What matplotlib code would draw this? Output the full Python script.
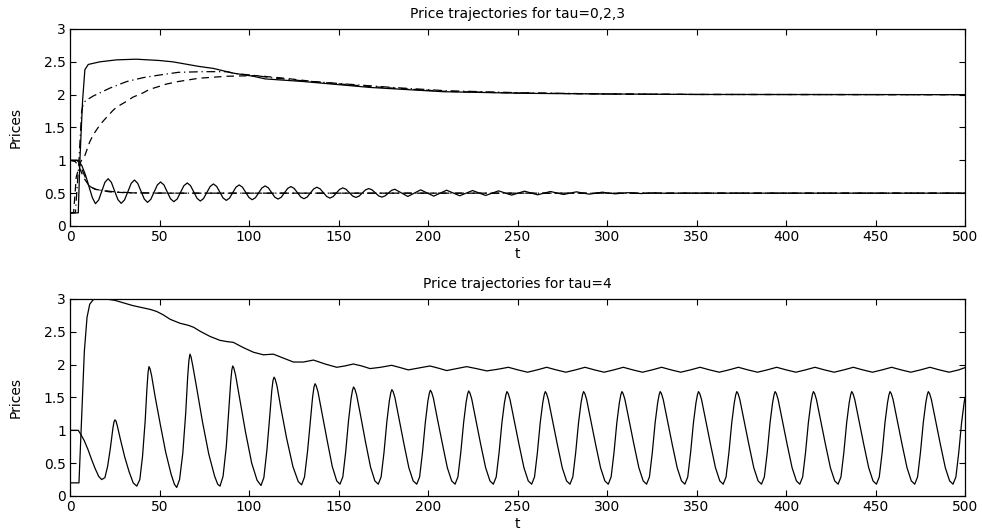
import matplotlib
matplotlib.use("Agg")
import matplotlib.pyplot as plt

plt.rcParams['font.family'] = ['DejaVu Sans']
plt.rcParams['font.size'] = 10

# ---- top panel: tau = 0, 2, 3 ----
# solid: tau=3 (oscillating), dash-dot: tau=2, dashed: tau=0
top_solid_hi_t = [0, 4.6, 5.6, 7.0, 8.3, 10.2, 16.7, 26, 37, 50, 57.4, 72, 80, 90.7, 102.4,
                  109, 130.3, 167.6, 208.5, 255, 301.7, 350, 500]
top_solid_hi_y = [0.2, 0.2, 1.05, 1.9, 2.38, 2.46, 2.50, 2.53, 2.54, 2.52, 2.50, 2.43, 2.40, 2.33, 2.28,
                  2.24, 2.20, 2.11, 2.045, 2.02, 2.01, 2.003, 2.0]

top_dashdot_hi_t = [0, 3, 5, 6.5, 7.5, 10, 13, 22.3, 31.7, 41, 50.3, 60.5, 74.5, 87.5, 93, 104,
                    111.7, 130.3, 160, 180, 210, 250, 300, 350, 500]
top_dashdot_hi_y = [0.2, 0.2, 1.0, 1.75, 1.88, 1.93, 1.98, 2.10, 2.20, 2.26, 2.30, 2.34, 2.35, 2.35, 2.32, 2.29,
                    2.26, 2.21, 2.15, 2.11, 2.06, 2.03, 2.01, 2.003, 2.0]

top_dashed_hi_t = [0, 2, 3.5, 6, 8.4, 11, 13, 16.7, 18.6, 24, 26, 31.7, 35, 41, 44.4, 50.3, 53.7,
                   60.5, 72, 87.5, 104, 120, 136, 160, 180, 210, 250, 300, 350, 500]
top_dashed_hi_y = [0.2, 0.2, 0.75, 0.98, 1.08, 1.28, 1.39, 1.54, 1.60, 1.76, 1.81, 1.90, 1.96, 2.03, 2.08, 2.13, 2.16,
                   2.20, 2.25, 2.28, 2.29, 2.25, 2.20, 2.14, 2.10, 2.05, 2.025, 2.01, 2.003, 2.0]

top_dashdot_lo_t = [0, 4, 6, 8.4, 11.2, 15, 18.6, 25, 35, 60, 500]
top_dashdot_lo_y = [1.0, 1.0, 0.9, 0.75, 0.60, 0.55, 0.54, 0.52, 0.505, 0.5, 0.5]

top_dashed_lo_t = [0, 3, 5, 8, 11, 14, 22, 32, 50, 500]
top_dashed_lo_y = [1.0, 0.98, 0.9, 0.72, 0.60, 0.56, 0.52, 0.505, 0.5, 0.5]

top_solid_lo_t = [0, 4.6, 6.6, 8.6, 10.6, 12.5, 14.2,
                  16.0, 17.75, 19.5, 21.3, 23.1, 24.95, 26.8, 28.6,
                  30.45, 32.3, 34.15, 36.0, 37.8, 39.65, 41.5, 43.3,
                  45.1, 46.95, 48.8, 50.6, 52.45, 54.3, 56.15, 58.0,
                  59.9, 61.75, 63.6, 65.5, 67.3, 69.15, 71.0, 72.8,
                  74.6, 76.45, 78.3, 80.1, 81.9, 83.7, 85.5, 87.3,
                  89.1, 90.9, 92.7, 94.5, 96.3, 98.15, 100.0, 101.8,
                  103.6, 105.4, 107.2, 109.0, 110.8, 112.6, 114.4, 116.2,
                  118.0, 119.8, 121.6, 123.4, 125.2, 127.05, 128.9, 130.7,
                  132.5, 134.3, 136.1, 137.9, 139.7, 141.55, 143.4, 145.2,
                  147.0, 148.8, 150.6, 152.4, 154.2, 156.05, 157.9, 159.7,
                  161.5, 163.3, 165.1, 166.9, 168.7, 170.55, 172.4, 174.2,
                  176.0, 177.8, 179.6, 181.4, 185.05, 188.7, 192.3, 195.9,
                  199.55, 203.2, 206.8, 210.4, 214.05, 217.7, 221.3, 224.9,
                  228.55, 232.2, 235.8, 239.4, 243.05, 246.7, 250.3, 253.9,
                  257.55, 261.2, 264.8, 268.4, 272.05, 275.7, 279.3, 282.9,
                  286.55, 290.2, 293.8, 297.4, 301.05, 304.7, 308.3, 311.9,
                  315.5, 319.1, 322.7, 326.4, 330.0, 333.6, 340, 500]
top_solid_lo_y = [1.0, 1.0, 0.92, 0.78, 0.60, 0.43, 0.34,
                  0.395, 0.53, 0.665, 0.72, 0.665, 0.53, 0.40, 0.345,
                  0.397, 0.52, 0.648, 0.70, 0.65, 0.53, 0.41, 0.36,
                  0.405, 0.515, 0.625, 0.67, 0.626, 0.52, 0.414, 0.37,
                  0.412, 0.513, 0.613, 0.655, 0.615, 0.518, 0.42, 0.38,
                  0.418, 0.51, 0.602, 0.64, 0.603, 0.515, 0.427, 0.39,
                  0.424, 0.508, 0.591, 0.625, 0.592, 0.512, 0.433, 0.40,
                  0.431, 0.505, 0.579, 0.61, 0.581, 0.51, 0.439, 0.41,
                  0.438, 0.505, 0.572, 0.60, 0.573, 0.508, 0.442, 0.415,
                  0.441, 0.503, 0.564, 0.59, 0.566, 0.508, 0.449, 0.425,
                  0.448, 0.503, 0.557, 0.58, 0.559, 0.508, 0.456, 0.435,
                  0.455, 0.503, 0.55, 0.57, 0.551, 0.505, 0.459, 0.44,
                  0.458, 0.50, 0.542, 0.56, 0.505, 0.45, 0.50, 0.55,
                  0.503, 0.455, 0.50, 0.545, 0.503, 0.46, 0.50, 0.54,
                  0.503, 0.465, 0.50, 0.535, 0.502, 0.47, 0.50, 0.53,
                  0.502, 0.475, 0.50, 0.525, 0.502, 0.48, 0.50, 0.52,
                  0.501, 0.485, 0.50, 0.515, 0.50, 0.49, 0.50, 0.507,
                  0.50, 0.494, 0.50, 0.504, 0.50, 0.497, 0.5, 0.5]

# ---- bottom panel: tau = 4 ----
bot_hi_t = [0, 5.0, 6.5, 8, 9.5, 11, 13, 15, 20, 25, 30, 35, 40, 45, 48.4, 52, 56, 61.5, 66, 69,
            72.6, 78.2, 83.8, 88, 91.2, 96.8, 102.4, 108, 113.6, 119.2, 124.8, 130.4, 136, 142.5,
            149, 153.5, 158.3, 163, 167.6, 173.5, 179.7, 184.5, 189, 195, 201.1, 206, 210.4, 216,
            221.6, 227, 232.8, 239,
            244.9, 250.25, 255.6, 260.95, 266.3, 271.65, 277.0, 282.35, 287.7, 293.05, 298.4, 303.75,
            309.1, 314.45, 319.8, 325.15, 330.5, 335.85, 341.2, 346.55, 352.0, 357.35, 362.7, 368.05,
            373.4, 378.75, 384.1, 389.45, 394.8, 400.15, 405.5, 410.85, 416.2, 421.55, 426.9, 432.25,
            437.6, 442.95, 448.3, 453.65, 459.0, 464.35, 469.7, 475.05, 480.4, 485.75, 491.1, 496.45,
            500]
bot_hi_y = [0.2, 0.2, 1.2, 2.2, 2.72, 2.92, 2.99, 3.0, 3.0, 2.98, 2.94, 2.90, 2.87, 2.84, 2.81, 2.76, 2.69, 2.63, 2.60, 2.57,
            2.51, 2.43, 2.37, 2.35, 2.34, 2.26, 2.19, 2.15, 2.16, 2.10, 2.04, 2.04, 2.07, 2.01,
            1.96, 1.98, 2.01, 1.98, 1.94, 1.96, 1.99, 1.955, 1.92, 1.95, 1.98, 1.945, 1.91, 1.94,
            1.97, 1.94, 1.905, 1.93,
            1.96, 1.92, 1.885, 1.92, 1.96, 1.92, 1.885, 1.92, 1.96, 1.92, 1.885, 1.92,
            1.96, 1.92, 1.885, 1.92, 1.96, 1.92, 1.885, 1.92, 1.96, 1.92, 1.885, 1.92,
            1.96, 1.92, 1.885, 1.92, 1.96, 1.92, 1.885, 1.92, 1.96, 1.92, 1.885, 1.92,
            1.96, 1.92, 1.885, 1.92, 1.96, 1.92, 1.885, 1.92, 1.96, 1.92, 1.885, 1.92,
            1.955]

bot_lo_t = [0, 4.6, 6, 8, 10, 12, 14, 16, 17.7, 19.5, 21, 22.5,
            24.0, 24.6, 25.1, 25.7, 26.5, 28, 30.5, 33, 35.3, 37.3,
            39, 40.5, 42, 43.0, 43.6, 44.1, 44.7, 45.6, 47.5, 50.5, 53.5, 56.5, 58.3, 59.6,
            61.2, 63, 64.6, 65.7, 66.4, 67, 67.6, 68.6, 70.8, 74, 77.5, 80.8, 82.5, 83.8,
            85.5, 87.3, 88.8, 89.8, 90.4, 90.9, 91.5, 92.5, 94.8, 98, 101.5, 104.5, 106.7,
            108.3, 110, 111.6, 112.7, 113.4, 114, 114.6, 115.6, 117.8, 121, 124.5, 127.5, 129.4,
            131, 132.7, 134.3, 135.5, 136.3, 136.9, 137.5, 138.5, 140.7, 143.7, 146.5, 149,
            150.8, 152.4, 154.0, 155.6, 157.0, 157.8, 158.4, 159.1, 160.1, 162.3, 165.1, 167.9, 170.3,
            172.2, 173.8, 175.4, 177.0, 178.4, 179.2, 179.8, 180.5, 181.5, 183.7, 186.5, 189.3, 191.7,
            193.7, 195.3, 196.9, 198.5, 199.9, 200.7, 201.3, 202.0, 203.0, 205.2, 208.0, 210.8, 213.2,
            215.1, 216.7, 218.3, 219.9, 221.3, 222.1, 222.7, 223.4, 224.4, 226.6, 229.4, 232.2, 234.6,
            236.5, 238.1, 239.7, 241.3, 242.7, 243.5, 244.1, 244.8, 245.8, 248.0, 250.8, 253.6, 256.0,
            257.9, 259.5, 261.1, 262.7, 264.1, 264.9, 265.5, 266.2, 267.2, 269.4, 272.2, 275.0, 277.4,
            279.3, 280.9, 282.5, 284.1, 285.5, 286.3, 286.9, 287.6, 288.6, 290.8, 293.6, 296.4, 298.8,
            300.7, 302.3, 303.9, 305.5, 306.9, 307.7, 308.3, 309.0, 310.0, 312.2, 315.0, 317.8, 320.2,
            322.1, 323.7, 325.3, 326.9, 328.3, 329.1, 329.7, 330.4, 331.4, 333.6, 336.4, 339.2, 341.6,
            343.5, 345.1, 346.7, 348.3, 349.7, 350.5, 351.1, 351.8, 352.8, 355.0, 357.8, 360.6, 363.0,
            364.9, 366.5, 368.1, 369.7, 371.1, 371.9, 372.5, 373.2, 374.2, 376.4, 379.2, 382.0, 384.4,
            386.3, 387.9, 389.5, 391.1, 392.5, 393.3, 393.9, 394.6, 395.6, 397.8, 400.6, 403.4, 405.8,
            407.7, 409.3, 410.9, 412.5, 413.9, 414.7, 415.3, 416.0, 417.0, 419.2, 422.0, 424.8, 427.2,
            429.1, 430.7, 432.3, 433.9, 435.3, 436.1, 436.7, 437.4, 438.4, 440.6, 443.4, 446.2, 448.6,
            450.5, 452.1, 453.7, 455.3, 456.7, 457.5, 458.1, 458.8, 459.8, 462.0, 464.8, 467.6, 470.0,
            471.9, 473.5, 475.1, 476.7, 478.1, 478.9, 479.5, 480.2, 481.2, 483.4, 486.2, 489.0, 491.4,
            493.3, 494.9, 496.5, 498.1, 499.5, 500]
bot_lo_y = [1.0, 1.0, 0.94, 0.84, 0.71, 0.56, 0.42, 0.30, 0.25, 0.28, 0.45, 0.72,
            1.04, 1.13, 1.16, 1.14, 1.06, 0.88, 0.60, 0.37, 0.20, 0.15,
            0.25, 0.60, 1.15, 1.65, 1.88, 1.97, 1.94, 1.83, 1.52, 1.08, 0.66, 0.33, 0.18, 0.13,
            0.25, 0.65, 1.25, 1.80, 2.06, 2.16, 2.12, 1.98, 1.64, 1.13, 0.64, 0.30, 0.18, 0.15,
            0.30, 0.75, 1.35, 1.75, 1.92, 1.98, 1.95, 1.84, 1.48, 0.98, 0.50, 0.24, 0.16,
            0.28, 0.70, 1.22, 1.60, 1.76, 1.81, 1.78, 1.68, 1.34, 0.88, 0.45, 0.22, 0.17,
            0.29, 0.68, 1.15, 1.50, 1.66, 1.71, 1.68, 1.59, 1.27, 0.84, 0.45, 0.23,
            0.18, 0.29, 0.67, 1.15, 1.48, 1.61, 1.66, 1.63, 1.54, 1.23, 0.82, 0.44, 0.23,
            0.18, 0.29, 0.66, 1.13, 1.45, 1.57, 1.62, 1.59, 1.50, 1.19, 0.80, 0.43, 0.23,
            0.18, 0.29, 0.66, 1.12, 1.44, 1.56, 1.61, 1.58, 1.49, 1.18, 0.80, 0.43, 0.23,
            0.18, 0.29, 0.66, 1.12, 1.43, 1.55, 1.60, 1.57, 1.48, 1.18, 0.79, 0.43, 0.23,
            0.18, 0.29, 0.66, 1.12, 1.42, 1.54, 1.59, 1.56, 1.47, 1.17, 0.79, 0.43, 0.23,
            0.18, 0.29, 0.66, 1.12, 1.42, 1.54, 1.59, 1.56, 1.47, 1.17, 0.79, 0.43, 0.23,
            0.18, 0.29, 0.66, 1.12, 1.42, 1.54, 1.59, 1.56, 1.47, 1.17, 0.79, 0.43, 0.23,
            0.18, 0.29, 0.66, 1.12, 1.42, 1.54, 1.59, 1.56, 1.47, 1.17, 0.79, 0.43, 0.23,
            0.18, 0.29, 0.66, 1.12, 1.42, 1.54, 1.59, 1.56, 1.47, 1.17, 0.79, 0.43, 0.23,
            0.18, 0.29, 0.66, 1.12, 1.42, 1.54, 1.59, 1.56, 1.47, 1.17, 0.79, 0.43, 0.23,
            0.18, 0.29, 0.66, 1.12, 1.42, 1.54, 1.59, 1.56, 1.47, 1.17, 0.79, 0.43, 0.23,
            0.18, 0.29, 0.66, 1.12, 1.42, 1.54, 1.59, 1.56, 1.47, 1.17, 0.79, 0.43, 0.23,
            0.18, 0.29, 0.66, 1.12, 1.42, 1.54, 1.59, 1.56, 1.47, 1.17, 0.79, 0.43, 0.23,
            0.18, 0.29, 0.66, 1.12, 1.42, 1.54, 1.59, 1.56, 1.47, 1.17, 0.79, 0.43, 0.23,
            0.18, 0.29, 0.66, 1.12, 1.42, 1.54, 1.59, 1.56, 1.47, 1.17, 0.79, 0.43, 0.23,
            0.18, 0.29, 0.66, 1.12, 1.42, 1.54, 1.59, 1.56, 1.47, 1.17, 0.79, 0.43, 0.23,
            0.18, 0.29, 0.66, 1.12, 1.42, 1.50]

xticks = [0, 50, 100, 150, 200, 250, 300, 350, 400, 450, 500]
yticks = [0, 0.5, 1, 1.5, 2, 2.5, 3]
ytick_labels = ['0', '0.5', '1', '1.5', '2', '2.5', '3']


def style_axes(ax, title):
    ax.set_xlim(0, 500)
    ax.set_ylim(0, 3)
    ax.set_xticks(xticks)
    ax.set_xticklabels([str(v) for v in xticks])
    ax.set_yticks(yticks)
    ax.set_yticklabels(ytick_labels)
    ax.tick_params(direction='in', length=4, width=0.8, top=True, right=True,
                   labelsize=10, pad=3, color='black')
    for s in ax.spines.values():
        s.set_linewidth(0.9)
        s.set_color('black')
    ax.set_title(title, fontsize=10, pad=8)
    ax.set_xlabel('t', fontsize=10, labelpad=2)
    ax.set_ylabel('Prices', fontsize=10)
    ax.yaxis.set_label_coords(-0.053, 0.5)


fig = plt.figure(figsize=(9.82, 5.29), dpi=100)
ax1 = fig.add_axes([0.0713, 0.5728, 0.9114, 0.3724])
ax2 = fig.add_axes([0.0713, 0.0624, 0.9114, 0.3724])

lw = 0.9
ax1.plot(top_dashed_hi_t, top_dashed_hi_y, color='black', lw=lw, dashes=(6, 4))
ax1.plot(top_dashed_lo_t, top_dashed_lo_y, color='black', lw=lw, dashes=(6, 4))
ax1.plot(top_dashdot_hi_t, top_dashdot_hi_y, color='black', lw=lw, dashes=(7, 3, 1, 3))
ax1.plot(top_dashdot_lo_t, top_dashdot_lo_y, color='black', lw=lw, dashes=(7, 3, 1, 3))
ax1.plot(top_solid_hi_t, top_solid_hi_y, color='black', lw=lw)
ax1.plot(top_solid_lo_t, top_solid_lo_y, color='black', lw=lw)
style_axes(ax1, 'Price trajectories for tau=0,2,3')

ax2.plot(bot_hi_t, bot_hi_y, color='black', lw=lw)
ax2.plot(bot_lo_t, bot_lo_y, color='black', lw=lw)
style_axes(ax2, 'Price trajectories for tau=4')

fig.savefig('out.png', dpi=100)
